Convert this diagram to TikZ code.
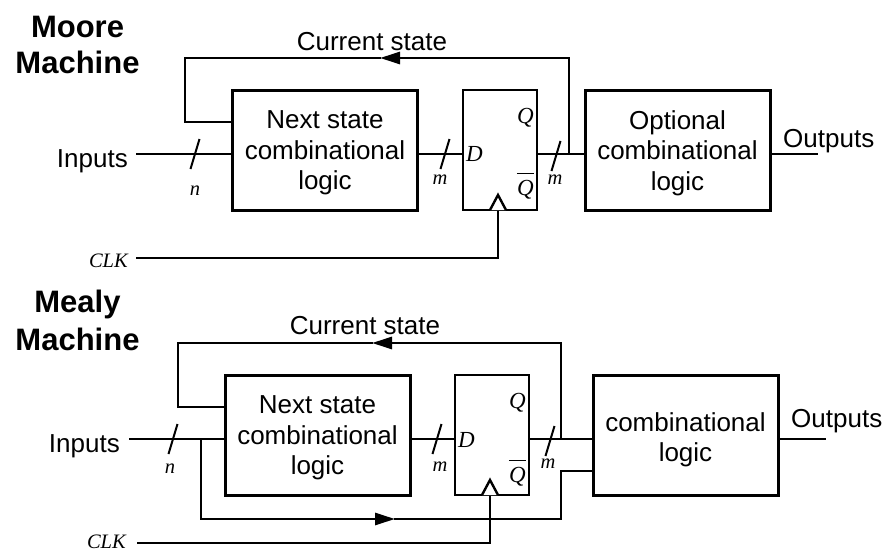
\documentclass[tikz,border=0pt]{standalone}
\usepackage{fontspec}
\setmainfont{Liberation Sans}
\newfontfamily\tms{Liberation Serif}
\usetikzlibrary{arrows.meta,calc}
\tikzset{
  wire/.style={line width=2.8pt, line cap=rect},
  blk/.style={draw, line width=3pt, minimum width=185pt, minimum height=120pt, inner sep=0pt, outer sep=0pt},
  ffbox/.style={draw, line width=2.6pt, minimum width=74pt, minimum height=120pt, inner sep=0pt, outer sep=0pt},
  blktext/.style={align=center, inner sep=0pt, font=\fontsize{26}{30.5}\selectfont},
  lbl/.style={inner sep=0pt, font=\fontsize{26}{30}\selectfont},
  ttl/.style={inner sep=0pt, font=\bfseries\fontsize{31}{36}\selectfont},
  ital/.style={inner sep=0pt, font=\tms\itshape\fontsize{20.5}{24}\selectfont},
  pin/.style={inner sep=0pt, font=\tms\itshape\fontsize{23}{26}\selectfont},
  busw/.style={inner sep=0pt, font=\tms\itshape\fontsize{20.5}{24}\selectfont},
  slashln/.style={line width=2pt},
  barln/.style={line width=1.6pt},
  clktri/.style={draw, fill=white, line width=2.4pt, line join=miter},
  midarrow/.style={-{Triangle[length=20pt,width=12pt]}}
}
\newcommand{\busslash}[1]{\draw[slashln] ($(#1)+(-4.5,15)$) -- ($(#1)+(4.5,-15)$);}
\begin{document}
\begin{tikzpicture}[x=1pt,y=-1pt]
\fill[white] (0,0) rectangle (887,554);
\useasboundingbox (0,0) rectangle (887,554);

% ================= Moore =================
\node[ttl, anchor=base] (mooreA) at (77.5,37.7) {Moore};
\node[ttl, anchor=base] (mooreB) at (77.5,73.3) {Machine};

\node[blk] (ns1) at (325,150) {};
\node[blktext] (ns1t) at (325,153) {Next state\\combinational\\logic};
\node[ffbox] (ff1) at (500,150) {};
\node[blk] (oc1) at (677.5,150) {};
\node[blktext] (oc1t) at (677.5,153) {Optional\\combinational\\logic};

\coordinate (in1) at (137,154);
\coordinate (j1) at (569,154);
\coordinate (fb1) at (380,58);
\coordinate (fbL1) at (185,122);
\coordinate (clk1) at (137,258);
\coordinate (ck1) at (498,210);
\coordinate (out1) at (817,154);

\draw[wire] (in1) -- (ns1.west |- in1);
\draw[wire] (ns1.east |- in1) -- (ff1.west |- in1);
\draw[wire] (ff1.east |- in1) -- (oc1.west |- in1);
\draw[wire, midarrow] (j1) |- (fb1);
\draw[wire] (fb1) -| (fbL1) -- (ns1.west |- fbL1);
\draw[wire] (clk1) -| (ck1);
\draw[clktri] ($(ck1)+(-8,0)$) -- ($(ck1)+(0,-15)$) -- ($(ck1)+(8,0)$);
\draw[wire] (oc1.east |- in1) -- (out1);

\coordinate (s1a) at (195,154);
\coordinate (s1b) at (445,154);
\coordinate (s1c) at (556,156);
\busslash{s1a}
\busslash{s1b}
\busslash{s1c}

\node[lbl, anchor=base east] (inl1) at (128,167) {Inputs};
\node[ital, anchor=base east] (clkl1) at (128,267) {CLK};
\node[busw, anchor=base] (n1) at (195,195) {n};
\node[busw, anchor=base] (m1a) at (440,184) {m};
\node[busw, anchor=base] (m1b) at (555,184) {m};
\node[pin, anchor=base west] (d1) at (466,161) {D};
\node[pin, anchor=base east] (q1) at (534,123) {Q};
\node[pin, anchor=base east] (qb1) at (534,195) {Q};
\draw[barln] ($(qb1.north west)+(0,-6)$) -- ($(qb1.north east)+(0,-6)$);
\node[lbl, anchor=base west] (outl1) at (783,147) {Outputs};
\node[lbl, anchor=base] (cs1) at (372,50) {Current state};

% ================= Mealy =================
\node[ttl, anchor=base] (mealyA) at (77.5,312) {Mealy};
\node[ttl, anchor=base] (mealyB) at (77.5,350) {Machine};

\node[blk] (ns2) at (317.5,435) {};
\node[blktext] (ns2t) at (317.5,438) {Next state\\combinational\\logic};
\node[ffbox] (ff2) at (492,435) {};
\node[blk] (cl2) at (685.5,435) {};
\node[blktext] (cl2t) at (685.5,440) {combinational\\logic};

\coordinate (in2) at (130,439);
\coordinate (b2) at (201,439);
\coordinate (ba2) at (395,519);
\coordinate (jb2) at (561,471);
\coordinate (j2) at (561,439);
\coordinate (fb2) at (372,343);
\coordinate (fbL2) at (178,407);
\coordinate (clk2) at (138,543);
\coordinate (ck2) at (490,495);
\coordinate (out2) at (825,439);

\draw[wire] (in2) -- (ns2.west |- in2);
\draw[wire, midarrow] (b2) |- (ba2);
\draw[wire] (ba2) -| (jb2) -- (cl2.west |- jb2);
\draw[wire] (ns2.east |- in2) -- (ff2.west |- in2);
\draw[wire] (ff2.east |- in2) -- (cl2.west |- in2);
\draw[wire, midarrow] (j2) |- (fb2);
\draw[wire] (fb2) -| (fbL2) -- (ns2.west |- fbL2);
\draw[wire] (clk2) -| (ck2);
\draw[clktri] ($(ck2)+(-8,0)$) -- ($(ck2)+(0,-15)$) -- ($(ck2)+(8,0)$);
\draw[wire] (cl2.east |- in2) -- (out2);

\coordinate (s2a) at (173,439);
\coordinate (s2b) at (437,439);
\coordinate (s2c) at (550,441);
\busslash{s2a}
\busslash{s2b}
\busslash{s2c}

\node[lbl, anchor=base east] (inl2) at (120,452) {Inputs};
\node[ital, anchor=base east] (clkl2) at (126,548) {CLK};
\node[busw, anchor=base] (n2) at (170,473) {n};
\node[busw, anchor=base] (m2a) at (440,471) {m};
\node[busw, anchor=base] (m2b) at (548,468) {m};
\node[pin, anchor=base west] (d2) at (458,447) {D};
\node[pin, anchor=base east] (q2) at (526,408) {Q};
\node[pin, anchor=base east] (qb2) at (526,482) {Q};
\draw[barln] ($(qb2.north west)+(0,-6)$) -- ($(qb2.north east)+(0,-6)$);
\node[lbl, anchor=base west] (outl2) at (791,427) {Outputs};
\node[lbl, anchor=base] (cs2) at (365,334) {Current state};
\end{tikzpicture}
\end{document}
